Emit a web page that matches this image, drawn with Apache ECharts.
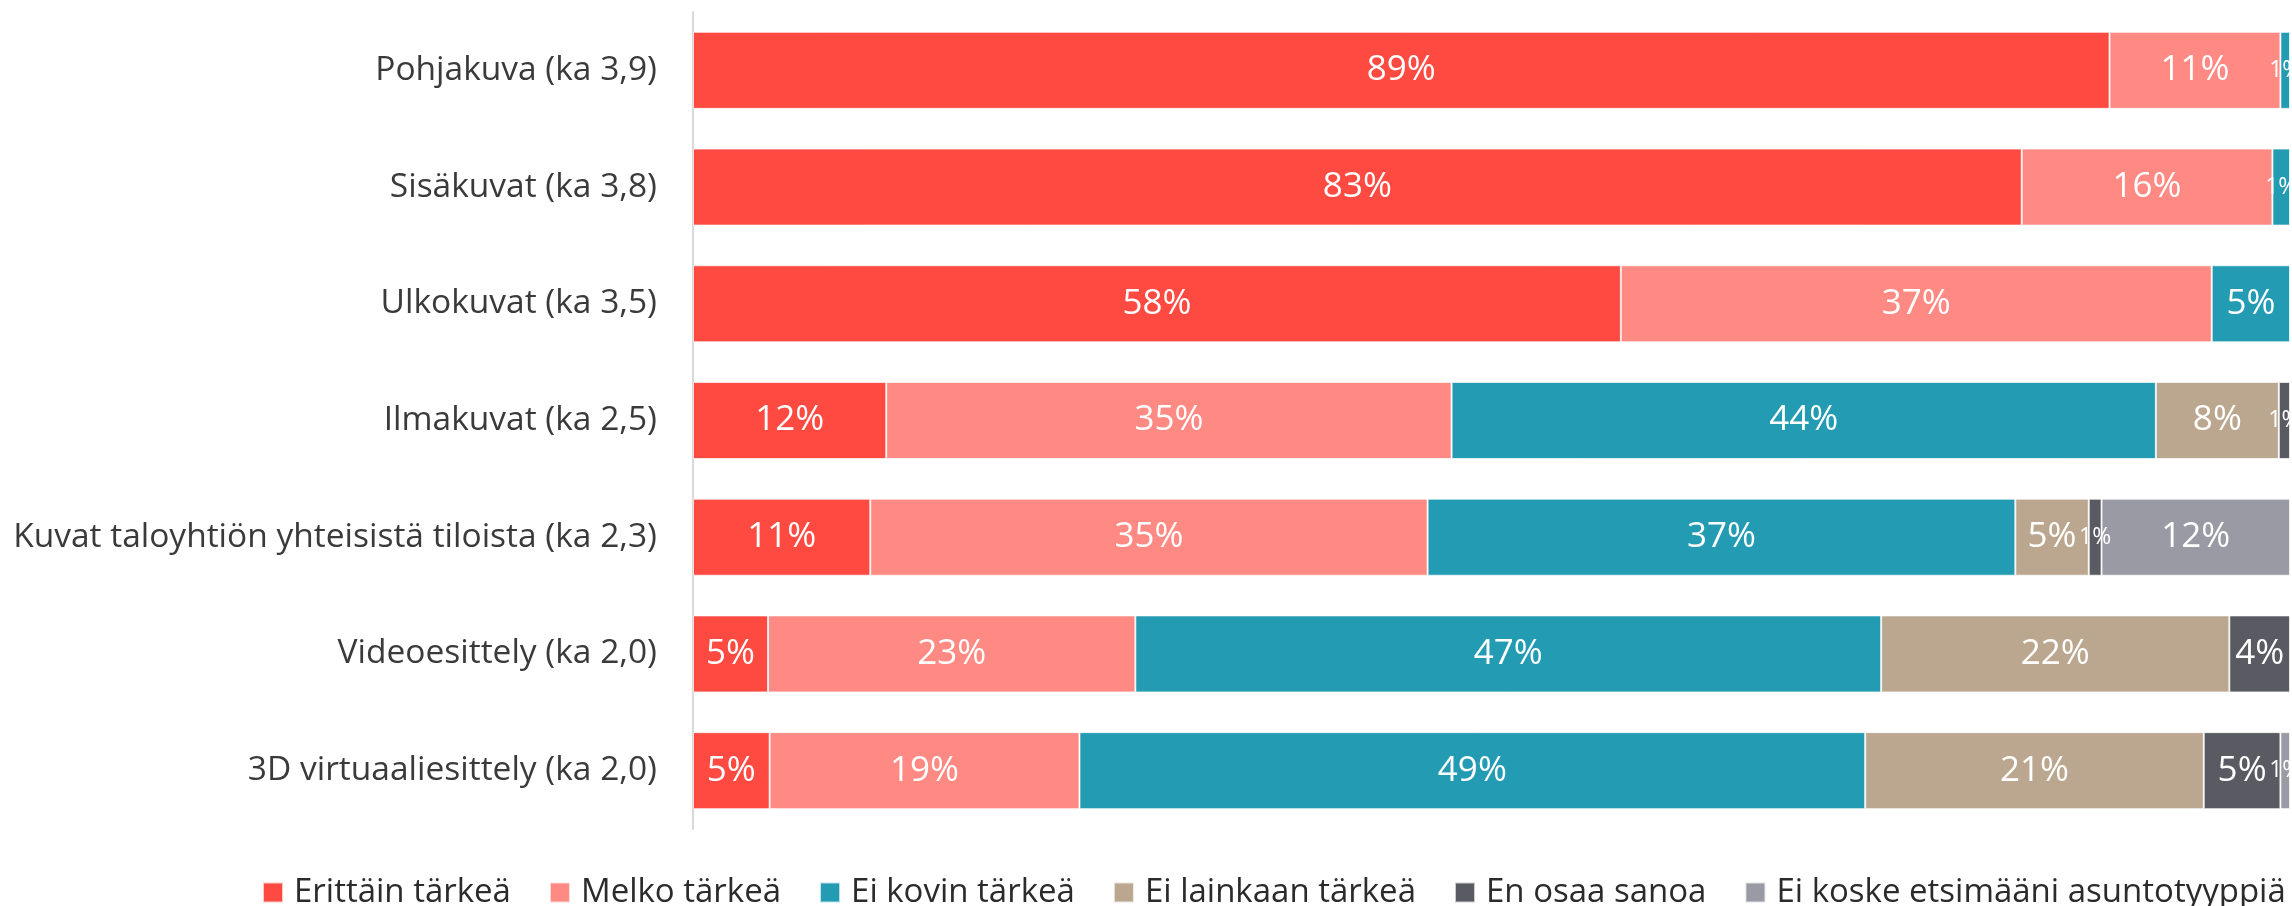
<!DOCTYPE html>
<html>
<head>
<meta charset="utf-8">
<script src="https://cdn.jsdelivr.net/npm/echarts@6/dist/echarts.min.js"></script>
<style>
html,body{margin:0;padding:0;background:#fff;}
#chart{width:2292px;height:906px;}
</style>
</head>
<body>
<div id="chart"></div>
<script>
const categories = [
  'Pohjakuva (ka 3,9)',
  'Sisäkuvat (ka 3,8)',
  'Ulkokuvat (ka 3,5)',
  'Ilmakuvat (ka 2,5)',
  'Kuvat taloyhtiön yhteisistä tiloista (ka 2,3)',
  'Videoesittely (ka 2,0)',
  '3D virtuaaliesittely (ka 2,0)'
];
const seriesNames = ['Erittäin tärkeä','Melko tärkeä','Ei kovin tärkeä','Ei lainkaan tärkeä','En osaa sanoa','Ei koske etsimääni asuntotyyppiä'];
const erittain   = [88.7, 83.2, 58.1, 12.1, 11.1, 4.7, 4.8];
const melko      = [10.7, 15.7, 37.0, 35.4, 34.9, 23.0, 19.4];
const eiKovin    = [0.6, 1.1, 4.9, 44.1, 36.8, 46.7, 49.2];
const eiLainkaan = [null, null, null, 7.7, 4.6, 21.8, 21.2];
const enOsaa     = [null, null, null, 0.7, 0.8, 3.8, 4.8];
const eiKoske    = [null, null, null, null, 11.8, null, 0.6];
const seriesData = [erittain, melko, eiKovin, eiLainkaan, enOsaa, eiKoske];
const colors = ['#FF4A42','#FF8A83','#229BB3','#BBA78F','#5A5A63','#9A9AA4'];

const FONT = '"Open Sans", sans-serif';
const chart = echarts.init(document.getElementById('chart'), null, {renderer:'canvas'});
chart.setOption({
  animation: false,
  color: colors,
  grid: {left: 693, right: 2, top: 12, bottom: 77, containLabel: false},
  xAxis: {type:'value', min:0, max:100, show:false},
  yAxis: {
    type:'category', data: categories, inverse: true,
    axisLine:{show:true, lineStyle:{color:'#D9D9D9', width:2}},
    axisTick:{show:false},
    axisLabel:{fontFamily:FONT, fontSize:33.5, color:'#3A3A3A', margin:36}
  },
  legend: {
    left: 257, top: 871, itemWidth: 20, itemHeight: 20, itemGap: 38, icon:'rect',
    selectedMode:false,
    textStyle:{fontFamily:FONT, fontSize:33, color:'#2B2B2B', padding:[0,0,0,6]},
    data: seriesNames
  },
  series: seriesData.map((d, i) => ({
    name: seriesNames[i], type:'bar', stack:'total',
    data: d.map(v => v == null ? v : {value: v, label: {fontSize: v < 2 ? 23 : 35}}),
    barWidth: '66%',
    itemStyle:{borderColor:'rgba(255,255,255,0.7)', borderWidth:1},
    label:{
      show:true, position:'inside', color:'#fff', fontFamily:FONT,
      formatter: p => p.value == null ? '' : Math.round(p.value) + '%'
    }
  }))
});
</script>
</body>
</html>
